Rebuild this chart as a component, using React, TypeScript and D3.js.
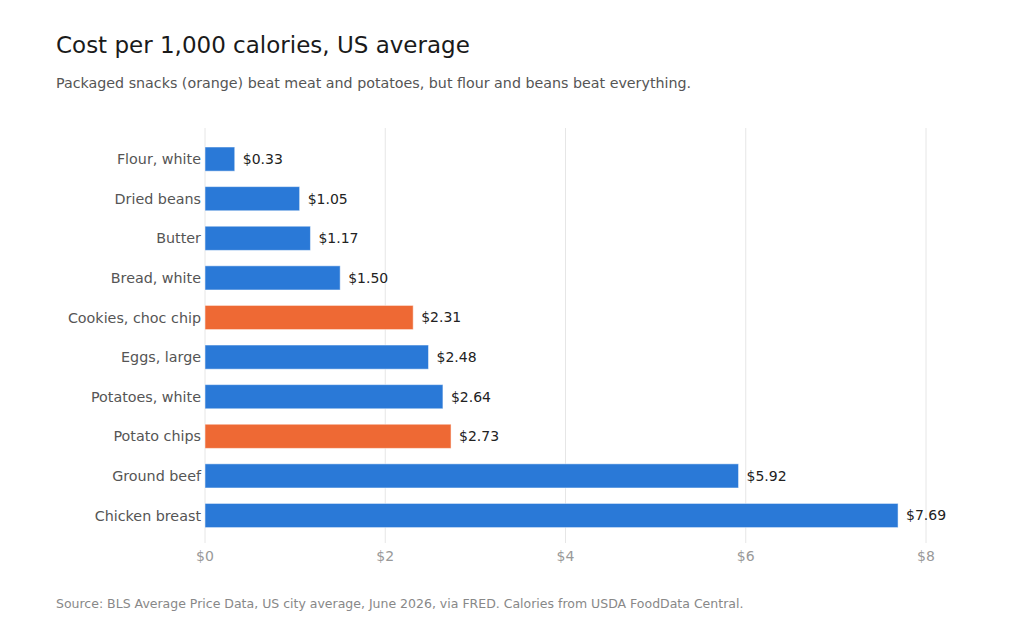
import React from "react";
import * as d3 from "d3";

const categories = [
  "Flour, white",
  "Dried beans",
  "Butter",
  "Bread, white",
  "Cookies, choc chip",
  "Eggs, large",
  "Potatoes, white",
  "Potato chips",
  "Ground beef",
  "Chicken breast",
];
const values = [0.33, 1.05, 1.17, 1.5, 2.31, 2.48, 2.64, 2.73, 5.92, 7.69];
const isSnack = [false, false, false, false, true, false, false, true, false, false];
const xTicks = [0, 2, 4, 6, 8];

const W = 1024;
const H = 640;
const FONT = "'DejaVu Sans', sans-serif";
const BLUE = "#2a79d7";
const ORANGE = "#ee6934";

export default function App() {
  const x = d3.scaleLinear().domain([0, 8]).range([205, 926]);
  const y = d3
    .scaleBand<string>()
    .domain(categories)
    .range([128, 546.6])
    .paddingInner(0.39)
    .paddingOuter(0.48);
  const gridTop = 128;
  const gridBottom = 543;

  return (
    <svg
      width={W}
      height={H}
      style={{ position: "absolute", left: 0, top: 0, background: "#fff" }}
      fontFamily={FONT}
    >
      <rect x={0} y={0} width={W} height={H} fill="#fff" />
      <text x={56} y={53} fontSize={23} fill="#1a1a1a">
        Cost per 1,000 calories, US average
      </text>
      <text x={56} y={88} fontSize={14.25} fill="#555">
        Packaged snacks (orange) beat meat and potatoes, but flour and beans beat everything.
      </text>

      {xTicks.map((t) => (
        <g key={t}>
          <line
            x1={x(t)}
            x2={x(t)}
            y1={gridTop}
            y2={gridBottom}
            stroke="#e6e6e6"
            strokeWidth={1}
          />
          <text
            x={x(t)}
            y={561}
            fontSize={14}
            fill="#999"
            textAnchor="middle"
          >
            {"$" + t}
          </text>
        </g>
      ))}

      {categories.map((c, i) => {
        const by = y(c)!;
        const bh = y.bandwidth();
        const cy = by + bh / 2;
        return (
          <g key={c}>
            <rect
              x={x(0)}
              y={by}
              width={x(values[i]) - x(0)}
              height={bh}
              fill={isSnack[i] ? ORANGE : BLUE}
              stroke="#fff"
              strokeOpacity={0.5}
              strokeWidth={1}
            />
            <text
              x={x(0) - 4}
              y={cy}
              dy="0.35em"
              fontSize={14.3}
              fill="#555"
              textAnchor="end"
            >
              {c}
            </text>
            <text
              x={x(values[i]) + 8}
              y={cy}
              dy="0.35em"
              fontSize={14}
              fill="#222"
            >
              {"$" + values[i].toFixed(2)}
            </text>
          </g>
        );
      })}

      <text x={56} y={608} fontSize={12.5} fill="#888">
        Source: BLS Average Price Data, US city average, June 2026, via FRED. Calories from USDA FoodData Central.
      </text>
    </svg>
  );
}
